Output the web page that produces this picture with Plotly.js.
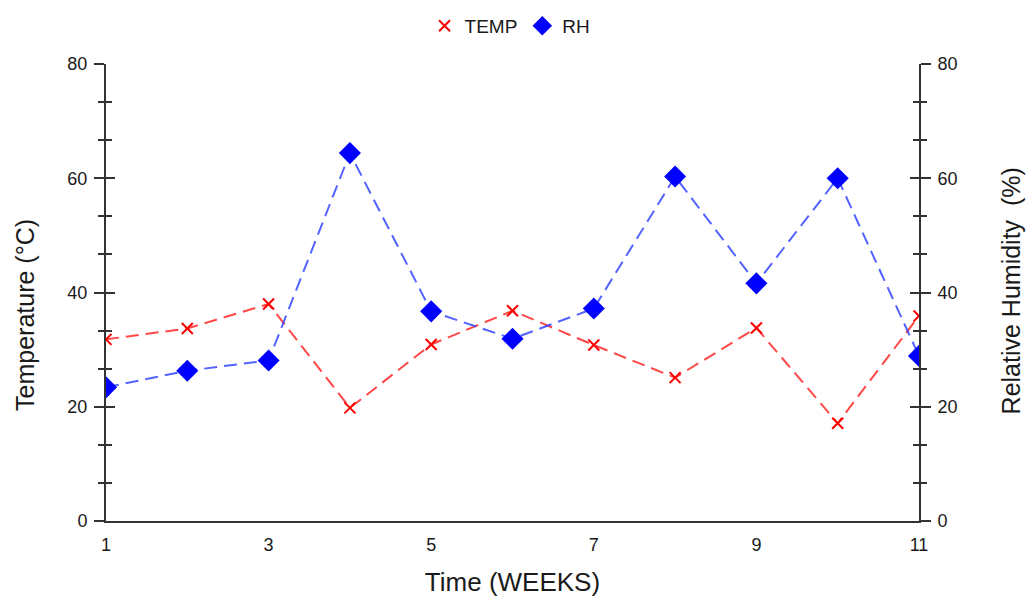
<!DOCTYPE html>
<html>
<head>
<meta charset="utf-8">
<script src="https://cdn.plot.ly/plotly-3.0.1.min.js"></script>
<style>
  html, body { margin: 0; padding: 0; background: #fff; }
  #chart { width: 1029px; height: 597px; }
</style>
</head>
<body>
<div id="chart"></div>
<script>
// Weekly readings
const weeks = [1, 2, 3, 4, 5, 6, 7, 8, 9, 10, 11];
const tempC = [31.8, 33.7, 38.0, 19.8, 30.9, 36.8, 30.8, 25.1, 33.8, 17.1, 35.9];
const rhPct = [23.4, 26.3, 28.1, 64.4, 36.7, 31.9, 37.2, 60.3, 41.6, 60.0, 28.9];
const xTicks = [1, 3, 5, 7, 9, 11];
const yTicks = [0, 20, 40, 60, 80];

const axisColor = '#333';
const font = { family: 'Liberation Sans, Arial, sans-serif', color: '#1a1a1a' };
const fnt = (size) => Object.assign({ size: size }, font);

const tempMarker = { symbol: 'x-thin', size: 11, color: '#ff0000', line: { color: '#ff0000', width: 2 } };
const rhMarker = { symbol: 'diamond', size: 17, color: '#0000ff' };

const traces = [
  {
    x: weeks, y: tempC, name: 'TEMP', type: 'scatter', mode: 'lines+markers',
    line: { color: 'rgba(255,40,40,0.85)', width: 2, dash: '13px,7px' },
    marker: tempMarker, yaxis: 'y', showlegend: false
  },
  {
    x: weeks, y: rhPct, name: 'RH', type: 'scatter', mode: 'lines+markers',
    line: { color: 'rgba(40,60,255,0.8)', width: 2, dash: '13px,7px' },
    marker: rhMarker, yaxis: 'y2', showlegend: false
  },
  // Legend keys show the marker only
  { x: [null], y: [null], name: 'TEMP', mode: 'markers', marker: tempMarker, yaxis: 'y' },
  { x: [null], y: [null], name: 'RH', mode: 'markers', marker: Object.assign({}, rhMarker, { size: 15 }), yaxis: 'y2' }
];

// Inner half of the crossing ticks on both vertical axes
const innerTicks = (side) => ({
  range: [0, 80], overlaying: 'y', side: side, showgrid: false, zeroline: false,
  showline: false, showticklabels: false, tickmode: 'array', tickvals: yTicks,
  ticks: 'inside', ticklen: 9, tickwidth: 2, tickcolor: axisColor,
  minor: { dtick: 20 / 3, ticks: 'inside', ticklen: 6, tickwidth: 2, tickcolor: axisColor },
  fixedrange: true
});

const outerAxis = (side) => ({
  range: [0, 80], side: side, showgrid: false, zeroline: false,
  showline: true, linecolor: axisColor, linewidth: 2,
  tickmode: 'array', tickvals: yTicks,
  ticks: 'outside', ticklen: 10, tickwidth: 2, tickcolor: axisColor,
  minor: { dtick: 20 / 3, ticks: 'outside', ticklen: 6, tickwidth: 2, tickcolor: axisColor },
  tickfont: fnt(18),
  ticklabelstandoff: 3
});

const layout = {
  width: 1029, height: 597,
  margin: { l: 106, r: 110, t: 64, b: 76, autoexpand: false },
  paper_bgcolor: '#fff', plot_bgcolor: '#fff',
  font: font,
  showlegend: true,
  legend: {
    orientation: 'h', x: 0.497, xanchor: 'center', y: 1.125, yanchor: 'top',
    font: fnt(19), itemwidth: 30
  },
  xaxis: {
    range: [1, 11], tickmode: 'array', tickvals: xTicks,
    showgrid: false, zeroline: false, showline: true, linecolor: axisColor, linewidth: 2,
    ticks: '', tickfont: fnt(18), ticklabelstandoff: 6,
    title: { text: 'Time (WEEKS)', font: fnt(26), standoff: 19 }
  },
  yaxis: outerAxis('left'),
  yaxis2: Object.assign(outerAxis('right'), { overlaying: 'y', anchor: 'x' }),
  yaxis3: innerTicks('left'),
  yaxis4: innerTicks('right'),
  // Vertical axis titles
  annotations: [
    {
      text: 'Temperature (°C)', xref: 'paper', yref: 'paper',
      x: -0.0996, y: 0.451, xanchor: 'center', yanchor: 'middle',
      textangle: -90, showarrow: false, font: fnt(25)
    },
    {
      text: 'Relative Humidity\u00a0\u00a0(%)', xref: 'paper', yref: 'paper',
      x: 1.1135, y: 0.503, xanchor: 'center', yanchor: 'middle',
      textangle: -90, showarrow: false, font: fnt(25)
    }
  ]
};

// Invisible traces that bind the inner tick axes to the plot
traces.push({ x: [1], y: [0], yaxis: 'y3', mode: 'markers', marker: { opacity: 0 }, showlegend: false, hoverinfo: 'skip' });
traces.push({ x: [1], y: [0], yaxis: 'y4', mode: 'markers', marker: { opacity: 0 }, showlegend: false, hoverinfo: 'skip' });

Plotly.newPlot('chart', traces, layout, { displayModeBar: false, staticPlot: true });
</script>
</body>
</html>
